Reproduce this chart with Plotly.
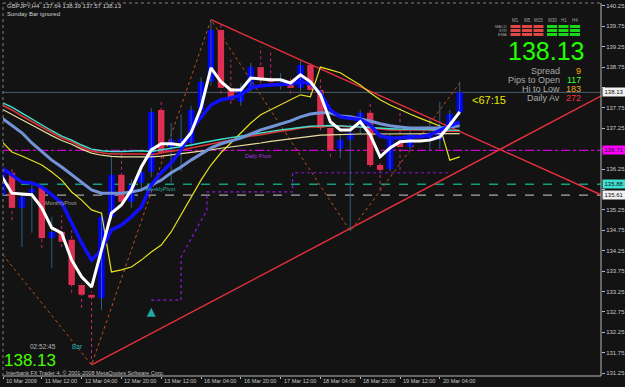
import plotly.graph_objects as go

# ---------------- data ----------------
bar_idx = list(range(47))
open_ = [135.62,136.16,135.30,135.67,135.79,134.56,134.71,134.52,133.41,133.17,
         133.09,135.08,136.11,135.45,135.91,136.18,137.70,136.79,136.90,136.89,
         137.70,138.39,139.66,138.24,137.90,138.24,138.75,138.44,138.40,138.31,
         138.24,138.80,138.19,137.26,136.75,136.97,137.41,137.63,136.35,136.25,
         136.89,136.79,137.09,137.01,136.97,137.28,137.64]
high_ = [136.35,136.25,135.65,135.91,135.86,135.08,135.12,134.75,133.45,133.25,
         135.20,136.55,136.60,136.00,136.30,137.75,137.90,137.38,137.60,137.80,
         138.50,139.91,139.80,138.93,138.35,138.85,139.25,139.12,138.60,138.50,
         138.90,138.85,138.51,137.30,137.10,137.35,137.70,137.90,136.40,137.10,
         137.75,137.20,137.30,137.50,137.90,137.70,138.39]
low_ = [135.50,135.00,134.34,134.69,134.32,133.83,134.34,133.22,132.85,131.45,
        132.80,135.00,135.35,135.30,135.70,136.05,136.50,135.91,136.20,136.80,
        137.60,138.30,138.10,137.85,137.80,138.15,138.35,138.30,138.20,138.10,
        138.15,138.05,137.20,136.55,136.52,134.73,137.10,136.30,135.74,136.20,
        136.23,136.70,136.90,136.70,136.75,137.20,137.57]
close_ = [136.23,135.30,135.57,135.77,134.56,134.71,134.47,133.41,133.17,133.10,
          135.08,136.11,135.45,135.86,136.18,137.65,136.65,136.97,137.00,137.70,
          138.39,139.66,138.24,137.95,138.24,138.75,138.44,138.40,138.45,138.24,
          138.80,138.19,137.26,136.72,136.97,137.14,137.63,136.35,136.23,137.01,
          136.79,137.09,137.01,137.05,137.31,137.60,138.13]

ma_white = [136.06,135.66,135.64,135.62,135.30,134.81,134.68,134.02,133.61,133.36,
            134.27,135.17,135.37,135.74,136.30,136.72,136.87,136.87,136.84,137.14,
            137.75,138.73,138.39,138.19,138.19,138.48,138.46,138.44,138.44,138.36,
            138.56,138.39,138.07,137.41,137.21,137.21,137.41,137.09,136.55,136.77,
            136.92,136.94,136.94,136.96,137.04,137.33,137.65]
ma_blue = [136.28,136.11,135.93,135.91,135.81,135.62,135.42,134.93,134.44,134.02,
           134.27,134.76,134.88,135.08,135.32,135.86,136.16,136.40,136.72,137.21,
           137.53,137.82,137.95,137.99,138.07,138.24,138.29,138.31,138.34,138.34,
           138.39,138.34,138.12,137.70,137.53,137.50,137.46,137.33,137.06,137.01,
           137.01,137.04,137.04,137.09,137.21,137.31,137.41]
ma_steel = [137.50,137.33,137.14,136.89,136.67,136.47,136.30,136.11,135.91,135.74,
            135.66,135.66,135.66,135.69,135.74,135.86,135.98,136.16,136.30,136.47,
            136.62,136.77,136.87,136.94,137.01,137.11,137.21,137.28,137.36,137.43,
            137.53,137.60,137.63,137.63,137.55,137.53,137.48,137.43,137.36,137.31,
            137.28,137.26,137.26,137.26,137.26,137.28,137.31]
ma_red = [137.82,137.70,137.55,137.41,137.26,137.14,137.01,136.92,136.79,136.69,
          136.65,136.62,136.62,136.62,136.62,136.60,136.65,136.69,136.72,136.77,
          136.82,136.87,136.92,136.96,137.01,137.06,137.09,137.14,137.18,137.21,
          137.26,137.28,137.28,137.31,137.31,137.28,137.28,137.26,137.23,137.21,
          137.21,137.21,137.21,137.21,137.18,137.18,137.18]
ma_cyan = [137.88,137.77,137.62,137.47,137.32,137.19,137.06,136.96,136.84,136.74,
           136.70,136.68,136.68,136.69,136.70,136.68,136.72,136.76,136.79,136.84,
           136.89,136.94,136.98,137.02,137.06,137.10,137.13,137.17,137.21,137.24,
           137.27,137.30,137.31,137.32,137.31,137.29,137.28,137.27,137.25,137.24,
           137.23,137.23,137.22,137.22,137.21,137.21,137.20]
ma_tan = [137.72,137.60,137.46,137.33,137.19,137.07,136.95,136.86,136.74,136.64,
          136.59,136.56,136.55,136.55,136.55,136.55,136.57,136.60,136.62,136.65,
          136.69,136.72,136.76,136.79,136.83,136.86,136.89,136.93,136.96,137.00,
          137.03,137.06,137.08,137.09,137.10,137.10,137.11,137.11,137.11,137.11,
          137.11,137.12,137.12,137.12,137.12,137.12,137.12]
band_yellow = [136.92,136.67,136.57,136.47,136.35,136.18,135.98,135.69,135.49,135.25,
               135.17,133.73,133.78,133.85,134.02,134.22,134.39,134.71,135.13,135.54,
               135.98,136.35,136.65,136.89,137.14,137.38,137.58,137.70,137.82,137.95,
               138.07,138.02,138.75,138.68,138.61,138.46,138.31,138.12,137.95,137.82,
               137.70,137.60,137.50,137.41,137.31,136.47,136.55]

# stepped dotted stop line (bar index, price)
stop_x = [15, 18, 18, 20.6, 20.6, 29.2, 29.2, 45]
stop_y = [133.04, 133.04, 134.10, 135.25, 135.69, 135.69, 136.16, 136.16]

# hand-drawn objects: (bar index, price) anchors
zig_x = [-0.3, 9, 21, 35, 46]
zig_y = [134.27, 131.45, 139.91, 134.73, 138.36]
trend_down = [(21, 139.91), (40, 137.83)]
trend_up = [(9, 131.45), (40, 135.44)]

bid = 138.13
pivot_daily, pivot_weekly, pivot_monthly = 136.71, 135.88, 135.61

tick_idx = [0, 4, 8, 12, 16, 20, 24, 28, 32, 36, 40, 44]
tick_labels = ["10 Mar 2009", "11 Mar 12:00", "12 Mar 04:00", "12 Mar 20:00",
               "13 Mar 12:00", "16 Mar 04:00", "16 Mar 20:00", "17 Mar 12:00",
               "18 Mar 04:00", "18 Mar 20:00", "19 Mar 12:00", "20 Mar 04:00"]
price_ticks = [131.25, 131.75, 132.25, 132.75, 133.25, 133.75, 134.25, 134.75, 135.25,
               135.75, 136.25, 136.75, 137.25, 137.75, 138.25, 138.75, 139.25, 139.75, 140.25]
# labels hidden behind the price boxes are left blank
price_labels = ["131.25", "131.75", "132.25", "132.75", "133.25", "133.75", "134.25", "134.75",
                "135.25", "", "136.25", "", "137.25", "137.75", "", "138.75", "139.25",
                "139.75", "140.25"]

timeframes = ["M1", "M5", "M15", "M30", "H1", "H4"]
signal_rows = ["MACD", "STR", "EMA"]
signal_state = {"MACD": [0, 0, 0, 1, 1, 1], "STR": [0, 0, 0, 1, 1, 1], "EMA": [0, 0, 0, 1, 1, 1]}
stats = [("Spread", "9", "#ffb000"), ("Pips to Open", "117", "#33ff33"),
         ("Hi to Low", "183", "#f0a820"), ("Daily Av", "272", "#ff3040")]

# ---------------- layout helpers ----------------
W, H = 625, 387
ML, MR, MT, MB = 3, 24, 3, 11
PW, PH = W - ML - MR, H - MT - MB
def px(x):
    return (x - ML) / PW
def py(y):
    return 1 - (y - MT) / PH

BG = "#131313"
XMIN, XMAX = 0.1, 60.2
YMIN, YMAX = 131.18, 140.32

fig = go.Figure()

# pivot / bid lines
fig.add_shape(type="line", xref="paper", x0=0, x1=1, yref="y", y0=bid, y1=bid,
              line=dict(color="#4e5e70", width=1), layer="below")
fig.add_shape(type="line", xref="paper", x0=0, x1=1, yref="y", y0=pivot_daily, y1=pivot_daily,
              line=dict(color="#d000d0", width=1.2, dash="dashdot"), layer="below")
fig.add_shape(type="line", xref="paper", x0=0, x1=1, yref="y", y0=pivot_weekly, y1=pivot_weekly,
              line=dict(color="#10a07c", width=1.4, dash="dash"), layer="below")
fig.add_shape(type="line", xref="paper", x0=0, x1=1, yref="y", y0=pivot_monthly, y1=pivot_monthly,
              line=dict(color="#a8a8a8", width=1.2, dash="dash"), layer="below")

# trend lines (rays)
def ray(p, q, x_end=62):
    (x0, y0), (x1, y1) = p, q
    s = (y1 - y0) / (x1 - x0)
    return [x0, x_end], [y0, y0 + s * (x_end - x0)]

for tl in (trend_down, trend_up):
    xs, ys = ray(*tl)
    fig.add_trace(go.Scatter(x=xs, y=ys, mode="lines", line=dict(color="#e8303c", width=1.4),
                             hoverinfo="skip"))

fig.add_trace(go.Scatter(x=zig_x, y=zig_y, mode="lines",
                         line=dict(color="#c0501c", width=1, dash="dot"), hoverinfo="skip"))
fig.add_trace(go.Scatter(x=stop_x, y=stop_y, mode="lines",
                         line=dict(color="#8a18d8", width=1.2, dash="dot"), hoverinfo="skip"))

# wicks
bx, by, rx, ry = [], [], [], []
for i, o, h, l, c in zip(bar_idx, open_, high_, low_, close_):
    if c >= o:
        bx += [i, i, None]; by += [l, h, None]
    else:
        rx += [i, i, None]; ry += [l, h, None]
fig.add_trace(go.Scatter(x=bx, y=by, mode="lines", line=dict(color="#2c5f86", width=1), hoverinfo="skip"))
fig.add_trace(go.Scatter(x=rx, y=ry, mode="lines", line=dict(color="#c8287a", width=1, dash="dot"), hoverinfo="skip"))

# bodies
bases = [min(o, c) for o, c in zip(open_, close_)]
heights = [max(abs(c - o), 0.03) for o, c in zip(open_, close_)]
colors = ["#0000ff" if c >= o else "#e0304e" for o, c in zip(open_, close_)]
fig.add_trace(go.Bar(x=bar_idx, y=heights, base=bases, width=0.64,
                     marker=dict(color=colors, line=dict(width=0)), hoverinfo="skip"))

# indicators
fig.add_trace(go.Scatter(x=bar_idx, y=band_yellow, mode="lines", line=dict(color="#e6e020", width=1.2), hoverinfo="skip"))
fig.add_trace(go.Scatter(x=bar_idx, y=ma_tan, mode="lines", line=dict(color="#e8dca0", width=1.2), hoverinfo="skip"))
fig.add_trace(go.Scatter(x=bar_idx, y=ma_red, mode="lines", line=dict(color="#e03434", width=1.6), hoverinfo="skip"))
fig.add_trace(go.Scatter(x=bar_idx, y=ma_cyan, mode="lines", line=dict(color="#40e0d0", width=1.4), hoverinfo="skip"))
fig.add_trace(go.Scatter(x=bar_idx, y=ma_steel, mode="lines", line=dict(color="#7494d8", width=3), hoverinfo="skip"))
fig.add_trace(go.Scatter(x=bar_idx, y=ma_blue, mode="lines", line=dict(color="#1010ff", width=3.5), hoverinfo="skip"))
fig.add_trace(go.Scatter(x=bar_idx, y=ma_white, mode="lines", line=dict(color="#ffffff", width=3), hoverinfo="skip"))

# arrow
fig.add_trace(go.Scatter(x=[15], y=[132.85], mode="markers",
                         marker=dict(symbol="arrow-up", size=9, color="#20a8a0"), hoverinfo="skip"))

# border
fig.add_shape(type="line", xref="paper", yref="paper", x0=1, x1=1, y0=0, y1=1, line=dict(color="#b8b8b8", width=1))
fig.add_shape(type="line", xref="paper", yref="paper", x0=0, x1=1, y0=0, y1=0, line=dict(color="#b8b8b8", width=1))
fig.add_shape(type="line", xref="paper", yref="paper", x0=0, x1=1, y0=1, y1=1, line=dict(color="#808080", width=1, dash="dot"))
fig.add_shape(type="line", xref="paper", yref="paper", x0=0, x1=0, y0=0, y1=1, line=dict(color="#808080", width=1, dash="dot"))

ann = []
FONT = "Liberation Sans, Arial, sans-serif"
def text(x, y, s, color, size, xanchor="left", family=FONT, **kw):
    ann.append(dict(xref="paper", yref="paper", x=px(x), y=py(y), text=s, showarrow=False,
                    xanchor=xanchor, yanchor="middle", font=dict(color=color, size=size, family=family), **kw))

text(5, 6, "GBPJPY,H4  137.64 138.39 137.57 138.13", "#d0d0d0", 6)
text(5, 14, "Sunday Bar ignored", "#d0d0d0", 6)

# time-axis labels placed at their tick positions on the x scale
for t, lab in zip(tick_idx, tick_labels):
    ann.append(dict(xref="x", yref="paper", x=max(t, XMIN), y=py(381.5), text=lab, showarrow=False,
                    xanchor="left", yanchor="middle", xshift=1,
                    font=dict(color="#c8c8c8", size=5.5, family=FONT)))

# signal panel
col_x = [515.5, 527, 538.5, 552, 563.5, 575]
row_y = [26.5, 30.5, 34.5]
for tf, cx in zip(timeframes, col_x):
    text(cx, 20, tf, "#a0a0a0", 4.5, xanchor="center")
for r, ry_ in zip(signal_rows, row_y):
    text(509, ry_, r, "#a0a0a0", 4, xanchor="right")
    for st, cx in zip(signal_state[r], col_x):
        fig.add_shape(type="rect", xref="paper", yref="paper",
                      x0=px(cx - 5), x1=px(cx + 5), y0=py(ry_ + 1.5), y1=py(ry_ - 1.5),
                      line=dict(width=0), fillcolor="#18d818" if st else "#e04848")

text(546, 51, "138.13", "#22ff00", 25, xanchor="center", family="Liberation Sans Narrow, Arial Narrow, sans-serif")
for k, (lab, val, col) in enumerate(stats):
    yy = 70.5 + 9.3 * k
    text(562, yy, lab, "#a8a8a8", 9, xanchor="right")
    text(583, yy, val, col, 9, xanchor="right")

text(470, 100, "<67:15", "#e8e800", 11)

# pivot labels (data positioned)
for s, xi, pv, col in [("Daily Pivot", 24.2, 136.57, "#b030e0"),
                       ("WeeklyPivot", 14.2, 135.76, "#30a898"),
                       ("MonthlyPivot", 4.1, 135.42, "#a0a0a0")]:
    ann.append(dict(xref="x", yref="y", x=xi, y=pv, text=s, showarrow=False, xanchor="left",
                    yanchor="middle", font=dict(color=col, size=5.5, family=FONT)))

# bottom-left info
text(28, 346, "02:52:45", "#b8b8b8", 6.5)
text(70, 346, "Bar", "#20b0b0", 6.5)
text(2, 360.5, "138.13", "#44ff00", 17)
text(4, 372.5, "Interbank FX Trader 4, \u00a9 2001-2008 MetaQuotes Software Corp.", "#c0c0c0", 5.5)

# right-axis price boxes
for val, bg in [(bid, "#f0f0f0"), (pivot_daily, "#ff00ff"), (pivot_weekly, "#40e0d0"), (pivot_monthly, "#f0f0f0")]:
    ann.append(dict(xref="paper", yref="y", x=1, y=val, xshift=1, text="%.2f" % val, showarrow=False,
                    xanchor="left", yanchor="middle", bgcolor=bg, borderpad=0, width=22, height=8,
                    font=dict(color="#101010", size=6, family=FONT)))

fig.update_layout(
    width=W, height=H, margin=dict(l=ML, r=MR, t=MT, b=MB, autoexpand=False),
    paper_bgcolor=BG, plot_bgcolor=BG, showlegend=False, barmode="overlay",
    hovermode=False, annotations=ann,
    xaxis=dict(range=[XMIN, XMAX], showgrid=False, zeroline=False, showline=False,
               tickmode="array", tickvals=[max(t, 0.15) for t in tick_idx], showticklabels=False,
               ticks="outside", ticklen=2, tickcolor="#b8b8b8"),
    yaxis=dict(range=[YMIN, YMAX], side="right", showgrid=False, zeroline=False, showline=False,
               tickmode="array", tickvals=price_ticks, ticktext=price_labels,
               ticks="outside", ticklen=3, tickcolor="#b8b8b8",
               tickfont=dict(color="#c8c8c8", size=6, family=FONT)),
)

fig.write_html("out.html")
